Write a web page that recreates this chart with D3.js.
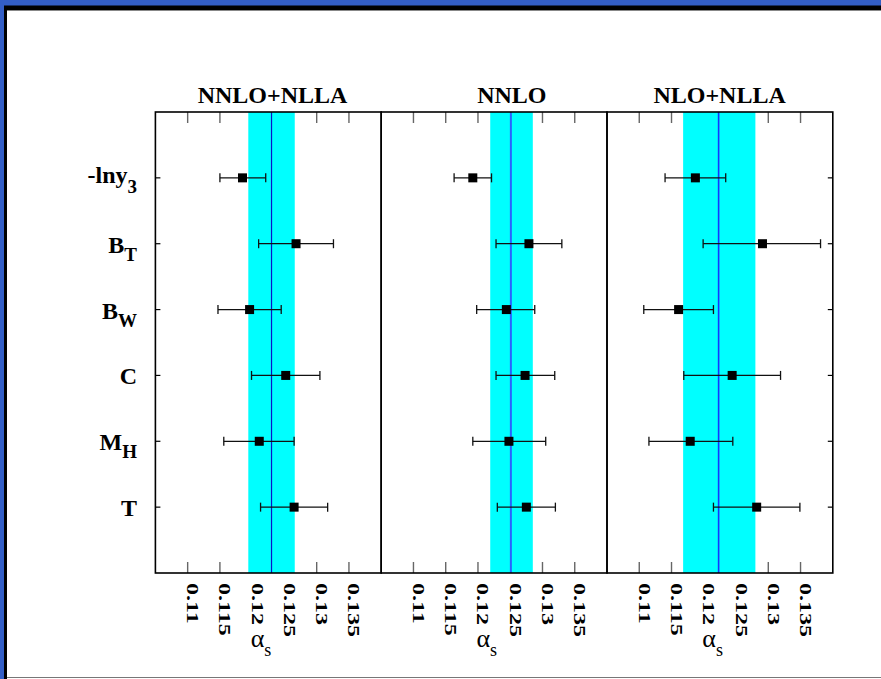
<!DOCTYPE html>
<html>
<head>
<meta charset="utf-8">
<script src="https://cdn.jsdelivr.net/npm/d3@7"></script>
<style>
  html, body { margin: 0; padding: 0; background: #fff; }
  svg { display: block; }
  text { font-family: "Liberation Serif", "Times New Roman", serif; }
</style>
</head>
<body>
<div id="chart"></div>
<script>
// observables (names split in main text + subscript)
const obsMain = ["-lny", "B", "B", "C", "M", "T"];
const obsSub  = ["3", "T", "W", "", "H", ""];

const panelTitles = ["NNLO+NLLA", "NNLO", "NLO+NLLA"];

// alpha_s fits, central value and lower/upper edge of the error bar
const nnloNlla   = [0.1185, 0.1268, 0.1196, 0.1252, 0.1211, 0.1265];
const nnloNllaLo = [0.1150, 0.1210, 0.1147, 0.1199, 0.1156, 0.1213];
const nnloNllaHi = [0.1221, 0.1326, 0.1245, 0.1305, 0.1265, 0.1317];

const nnlo   = [0.1192, 0.1279, 0.1244, 0.1273, 0.1248, 0.1275];
const nnloLo = [0.1163, 0.1228, 0.1198, 0.1228, 0.1192, 0.1230];
const nnloHi = [0.1221, 0.1330, 0.1288, 0.1319, 0.1305, 0.1320];

const nloNlla   = [0.1187, 0.1291, 0.1161, 0.1244, 0.1179, 0.1282];
const nloNllaLo = [0.1140, 0.1199, 0.1107, 0.1169, 0.1115, 0.1215];
const nloNllaHi = [0.1234, 0.1381, 0.1215, 0.1319, 0.1245, 0.1349];

// combined result band per panel
const bandMid = [0.1230, 0.1251, 0.1223];
const bandLo  = [0.1194, 0.1219, 0.1168];
const bandHi  = [0.1266, 0.1285, 0.1280];

const xTicks = [0.11, 0.115, 0.12, 0.125, 0.13, 0.135];

const series = [
  {val: nnloNlla, lo: nnloNllaLo, hi: nnloNllaHi},
  {val: nnlo, lo: nnloLo, hi: nnloHi},
  {val: nloNlla, lo: nloNllaLo, hi: nloNllaHi}
];

const W = 881, H = 679;
const plotTop = 112, plotBottom = 573;
const left0 = 155.4, pw = 225.8;
const lineStyle = [
  {c: "#0a14c8", w: 1.2},
  {c: "#2a62ff", w: 2},
  {c: "#1434ff", w: 1.6}
];

const svg = d3.select("#chart").append("svg")
  .attr("width", W).attr("height", H);

// slide frame
svg.append("rect").attr("width", W).attr("height", H).attr("fill", "#335ec6");
svg.append("rect").attr("x", 4).attr("y", 5.5).attr("width", W).attr("height", H).attr("fill", "#000");
svg.append("rect").attr("x", 7).attr("y", 10).attr("width", W).attr("height", H).attr("fill", "#fff");
svg.append("line").attr("x1", 7).attr("x2", W).attr("y1", 10.5).attr("y2", 10.5)
  .attr("stroke", "#888").attr("stroke-width", 1);
svg.append("line").attr("x1", 7).attr("x2", W).attr("y1", 677.5).attr("y2", 677.5)
  .attr("stroke", "#777").attr("stroke-width", 1.2);

const y = d3.scaleLinear().domain([0, 7]).range([plotTop, plotBottom]);

panelTitles.forEach((title, p) => {
  const x0 = left0 + p * pw;
  const x = d3.scaleLinear().domain([0.105, 0.14]).range([x0, x0 + pw]);
  const g = svg.append("g");
  const s = series[p];

  // ticks on top and bottom (grey, inward)
  xTicks.forEach(t => {
    g.append("line").attr("x1", x(t)).attr("x2", x(t)).attr("y1", plotTop).attr("y2", plotTop + 11)
      .attr("stroke", "#666").attr("stroke-width", 1.4);
    g.append("line").attr("x1", x(t)).attr("x2", x(t)).attr("y1", plotBottom - 11).attr("y2", plotBottom)
      .attr("stroke", "#666").attr("stroke-width", 1.4);
  });

  // band
  g.append("rect")
    .attr("x", x(bandLo[p])).attr("y", plotTop)
    .attr("width", x(bandHi[p]) - x(bandLo[p])).attr("height", plotBottom - plotTop)
    .attr("fill", "#00ffff");
  g.append("line")
    .attr("x1", x(bandMid[p])).attr("x2", x(bandMid[p]))
    .attr("y1", plotTop).attr("y2", plotBottom)
    .attr("stroke", lineStyle[p].c).attr("stroke-width", lineStyle[p].w);

  // error bars
  s.val.forEach((v, i) => {
    const yy = y(i + 1);
    g.append("line").attr("x1", x(s.lo[i])).attr("x2", x(s.hi[i])).attr("y1", yy).attr("y2", yy)
      .attr("stroke", "#111").attr("stroke-width", 1.3);
    [s.lo[i], s.hi[i]].forEach(e => {
      g.append("line").attr("x1", x(e)).attr("x2", x(e)).attr("y1", yy - 4.5).attr("y2", yy + 4.5)
        .attr("stroke", "#111").attr("stroke-width", 1.3);
    });
    g.append("rect").attr("x", x(v) - 4.5).attr("y", yy - 4.5)
      .attr("width", 9).attr("height", 9).attr("fill", "#000");
  });

  // y ticks on outer edges
  if (p === 0 || p === 2) {
    const ex = p === 0 ? x0 : x0 + pw;
    const dir = p === 0 ? 1 : -1;
    obsMain.forEach((o, i) => {
      g.append("line").attr("x1", ex).attr("x2", ex + dir * 5)
        .attr("y1", y(i + 1)).attr("y2", y(i + 1))
        .attr("stroke", "#000").attr("stroke-width", 1.2);
    });
  }

  // frame
  g.append("rect").attr("x", x0).attr("y", plotTop).attr("width", pw).attr("height", plotBottom - plotTop)
    .attr("fill", "none").attr("stroke", "#000").attr("stroke-width", 1.6);

  // title
  g.append("text").attr("x", x(bandMid[p]) + 1).attr("y", 103)
    .attr("text-anchor", "middle").attr("font-size", 24).attr("font-weight", "bold")
    .attr("fill", "#000").text(title);

  // rotated tick labels
  xTicks.forEach(t => {
    g.append("text")
      .attr("transform", `translate(${x(t) - 0.5},583) rotate(90) scale(1.5,1)`)
      .attr("font-size", 16).attr("font-weight", "bold").attr("fill", "#000")
      .text(String(t));
  });

  // axis label alpha_s
  const lab = g.append("text").attr("x", x(0.12) - 1.5).attr("y", 647)
    .attr("font-size", 26).attr("fill", "#000");
  lab.append("tspan").text("α");
  lab.append("tspan").attr("font-size", 18).attr("dy", 9).text("s");
});

// observable labels
obsMain.forEach((o, i) => {
  const yy = y(i + 1) + (i === 0 ? 5 : 9);
  const t = svg.append("text").attr("x", 137).attr("y", yy)
    .attr("text-anchor", "end").attr("font-weight", "bold").attr("fill", "#000");
  t.append("tspan").attr("font-size", 24).text(o);
  if (obsSub[i]) t.append("tspan").attr("font-size", 19).attr("dy", i === 0 ? 10 : 8).text(obsSub[i]);
});
</script>
</body>
</html>
